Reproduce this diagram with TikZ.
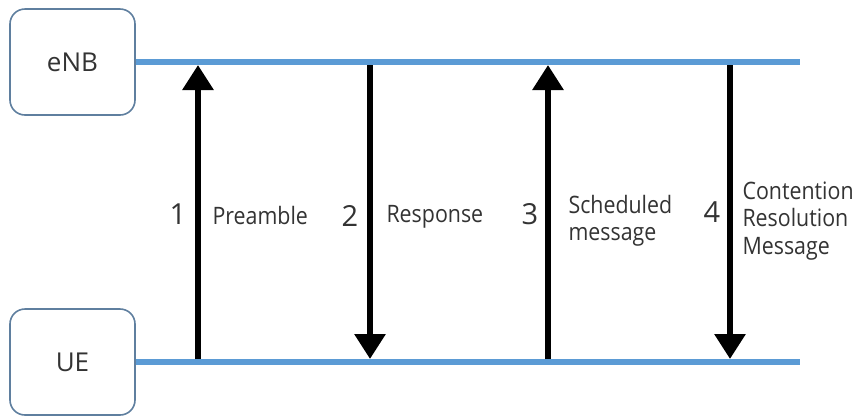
\documentclass[tikz,border=0pt]{standalone}
\usepackage{fontspec}
\setmainfont{Open Sans}
\newfontfamily\narrowfont[FakeStretch=0.89]{Open Sans}
\usepackage{xcolor}
\usetikzlibrary{arrows.meta}

\definecolor{linkblue}{HTML}{5B9BD5}
\definecolor{boxedge}{HTML}{5F7F9F}
\definecolor{textgray}{HTML}{333333}

\begin{document}
\begin{tikzpicture}[
  x=1pt, y=-1pt,
  line cap=butt,
  entity/.style={draw=boxedge, line width=1.6pt, rounded corners=15pt,
    minimum width=125pt, minimum height=106pt, text=textgray,
    font=\fontsize{26}{28}\selectfont},
  timeline/.style={linkblue, line width=6pt},
  msg/.style={-{Triangle[length=25pt,width=30pt]}, line width=6pt, black},
  step label/.style={text=textgray, font=\fontsize{29}{30}\selectfont},
  msg label/.style={anchor=west, align=left, text=textgray,
    font=\narrowfont\fontsize{24}{27.5}\selectfont}
]
  \useasboundingbox (0,0) rectangle (858,416);

  % Entities
  \node[entity] (enb) at (72.5,62)  {eNB};
  \node[entity] (ue)  at (72.5,362) {UE};

  % Timeline ends
  \coordinate (enbEnd) at (800,62);
  \coordinate (ueEnd)  at (800,362);
  \draw[timeline] (enb.east) -- (enbEnd);
  \draw[timeline] (ue.east)  -- (ueEnd);

  % Message ends on the two timelines
  \coordinate (m1a) at (198,359); \coordinate (m1b) at (198,65);
  \coordinate (m2a) at (370,65);  \coordinate (m2b) at (370,359);
  \coordinate (m3a) at (548,359); \coordinate (m3b) at (548,65);
  \coordinate (m4a) at (730,65);  \coordinate (m4b) at (730,359);

  \draw[msg] (m1a) -- (m1b);
  \draw[msg] (m2a) -- (m2b);
  \draw[msg] (m3a) -- (m3b);
  \draw[msg] (m4a) -- (m4b);

  % Step numbers
  \node[step label] (n1) at (178,214) {1};
  \node[step label] (n2) at (350,216) {2};
  \node[step label] (n3) at (530,214) {3};
  \node[step label] (n4) at (712,212) {4};

  % Message names
  \node[msg label] (l1) at (209,215) {Preamble};
  \node[msg label] (l2) at (383,217) {Response};
  \node[msg label] (l3) at (565,221) {Scheduled\\message};
  \node[msg label] (l4) at (739,221) {Contention\\Resolution\\Message};
\end{tikzpicture}
\end{document}
